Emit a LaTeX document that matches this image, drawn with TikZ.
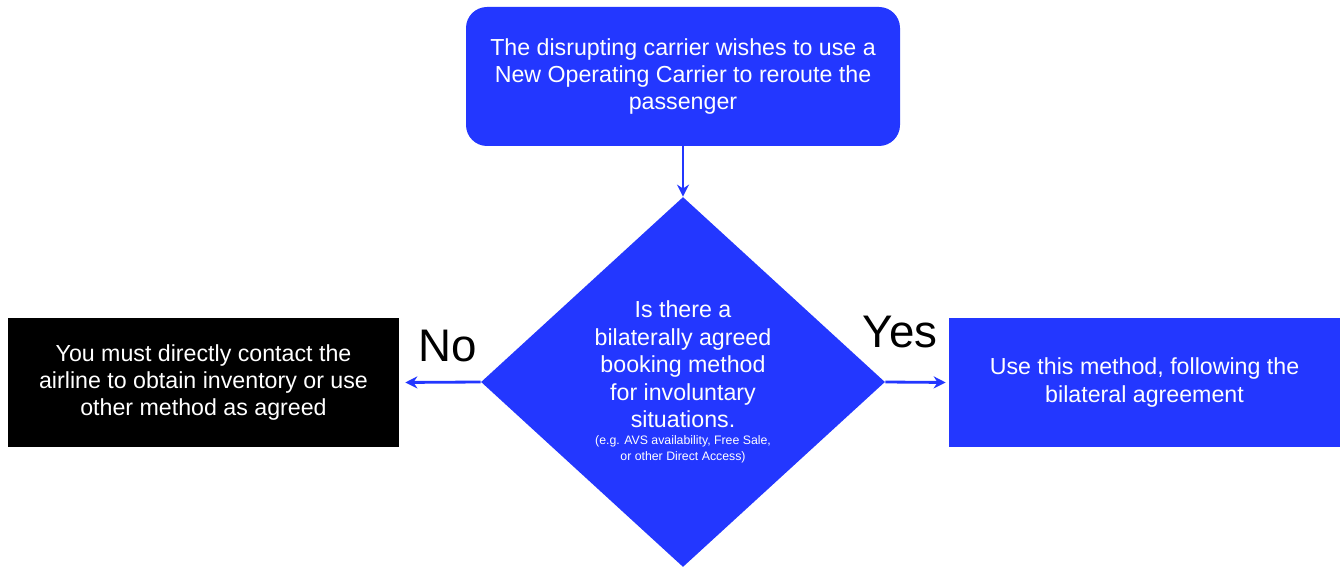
\documentclass[tikz,border=0pt]{standalone}
\usepackage{fontspec}
\setmainfont{Liberation Sans}
\usepackage{tikz}
\usetikzlibrary{arrows.meta, shapes.geometric, positioning}
\usepackage{xcolor}
\definecolor{flowblue}{RGB}{35,55,255}

\begin{document}
\begin{tikzpicture}[
  box/.style={fill=flowblue, text=white, align=center, inner sep=0pt,
    font=\fontsize{13.2}{15.6}\selectfont},
  link/.style={-{Stealth[length=2.4mm, width=2.4mm]}, flowblue, line width=1.6pt},
  answer/.style={font=\fontsize{26}{30}\selectfont}
]
\useasboundingbox (0,0) rectangle (26.82,-11.38);
% question and start
\node[box, rounded corners=0.42cm, minimum width=8.68cm, minimum height=2.78cm]
  (start) at (13.66,-1.53)
  {The disrupting carrier wishes to use a\\New Operating Carrier to reroute the\\passenger};
\node[box, diamond, minimum width=8.08cm, minimum height=7.4cm]
  (ask) at (13.66,-7.64)
  {Is there a\\bilaterally agreed\\booking method\\for involuntary\\situations.\\[-6pt]
   {\fontsize{7}{9}\selectfont (e.g. AVS availability, Free Sale,}\\[-6.5pt]
   {\fontsize{7}{9}\selectfont or other Direct Access)}};
% outcomes
\node[box, fill=black, minimum width=7.82cm, minimum height=2.58cm]
  (no) at (4.07,-7.65)
  {You must directly contact the\\airline to obtain inventory or use\\other method as agreed};
\node[box, minimum width=7.82cm, minimum height=2.58cm]
  (yes) at (22.89,-7.65)
  {Use this method, following the\\bilateral agreement};
\node[answer] (nolabel) at (8.96,-6.92) {No};
\node[answer] (yeslabel) at (18.0,-6.64) {Yes};
\draw[link] (start) -- (ask);
\draw[link, shorten >=0.12cm] (ask.west) -- (no.east);
\draw[link, shorten >=0.06cm] (ask.east) -- (yes.west);
\end{tikzpicture}
\end{document}
